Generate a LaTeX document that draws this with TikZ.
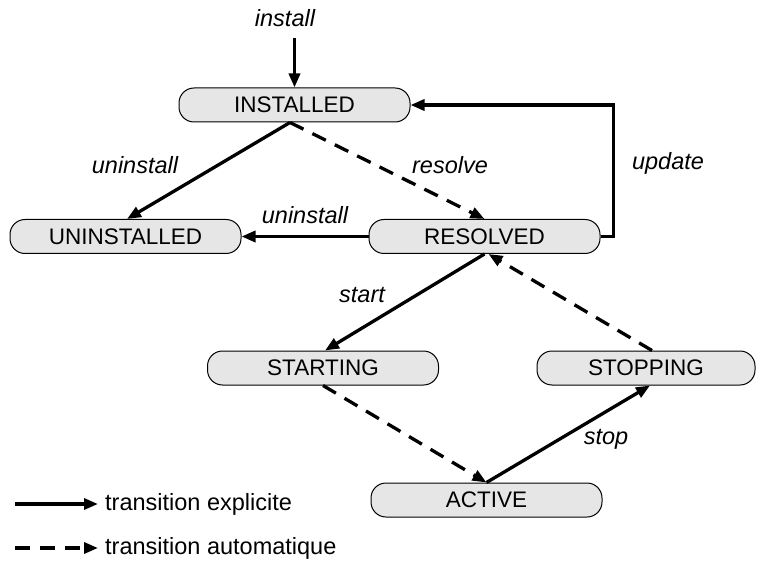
\documentclass[tikz,border=0pt]{standalone}
\usepackage{fontspec}
\setmainfont{Liberation Sans}
\usetikzlibrary{arrows.meta}
\definecolor{stategray}{RGB}{230,230,230}

\begin{document}
\begin{tikzpicture}[x=1pt,y=-1pt,
  state/.style={draw=black, line width=1pt, fill=stategray,
    rounded corners=15pt, minimum width=231pt, minimum height=34pt,
    inner sep=0pt, font=\fontsize{22.5}{26}\selectfont},
  trans/.style={line width=3.3pt, -{Triangle[length=14pt,width=11pt]}},
  autotrans/.style={trans, dash pattern=on 15pt off 10pt},
  lbl/.style={font=\fontsize{23.5}{27}\selectfont\itshape, inner sep=0pt},
  legendtxt/.style={font=\fontsize{23.5}{27}\selectfont, anchor=west, inner sep=0pt}
]
\useasboundingbox (0,0) rectangle (757,561);

% states
\node[state] (inst)    at (294.5,105)   {INSTALLED};
\node[state] (uninst)  at (125.5,236.5) {UNINSTALLED};
\node[state] (res)     at (484.5,236.5) {RESOLVED};
\node[state] (starting) at (323,368)    {STARTING};
\node[state, minimum width=218pt] (stopping) at (646,368) {STOPPING};
\node[state] (active)  at (486.5,500)   {ACTIVE};

% entry point
\coordinate (entry) at (294.5,38);
\node[lbl] (linstall) at (285,18) {install};
\draw[trans] (entry) -- (inst.north);

% transitions
\draw[trans] ([xshift=-4.5pt]inst.south) -- ([xshift=1.5pt]uninst.north);
\draw[autotrans] ([xshift=-4.5pt]inst.south) -- (res.north);
\draw[trans] (res.west) -- (uninst.east);
\draw[trans] (res.east) -- ++(13,0) |- (inst.east);
\draw[trans] (res.south) -- ([xshift=2pt]starting.north);
\draw[autotrans] ([xshift=6pt]stopping.north) -- ([xshift=4pt]res.south);
\draw[autotrans] (starting.south) -- (active.north);
\draw[trans] (active.north) -- ([xshift=4pt]stopping.south);

% transition labels
\node[lbl] (l1) at (135,165) {uninstall};
\node[lbl] (l2) at (450,165) {resolve};
\node[lbl] (l3) at (305,215) {uninstall};
\node[lbl] (l4) at (668,163) {update};
\node[lbl] (l5) at (362,295) {start};
\node[lbl] (l6) at (606,439) {stop};

% legend
\coordinate (la) at (15,504);
\coordinate (lb) at (98,504);
\coordinate (lc) at (15,548);
\coordinate (ld) at (98,548);
\draw[trans] (la) -- (lb);
\draw[autotrans] (lc) -- (ld);
\node[legendtxt] (lt1) at (105,504) {transition explicite};
\node[legendtxt] (lt2) at (105,548) {transition automatique};
\end{tikzpicture}
\end{document}
